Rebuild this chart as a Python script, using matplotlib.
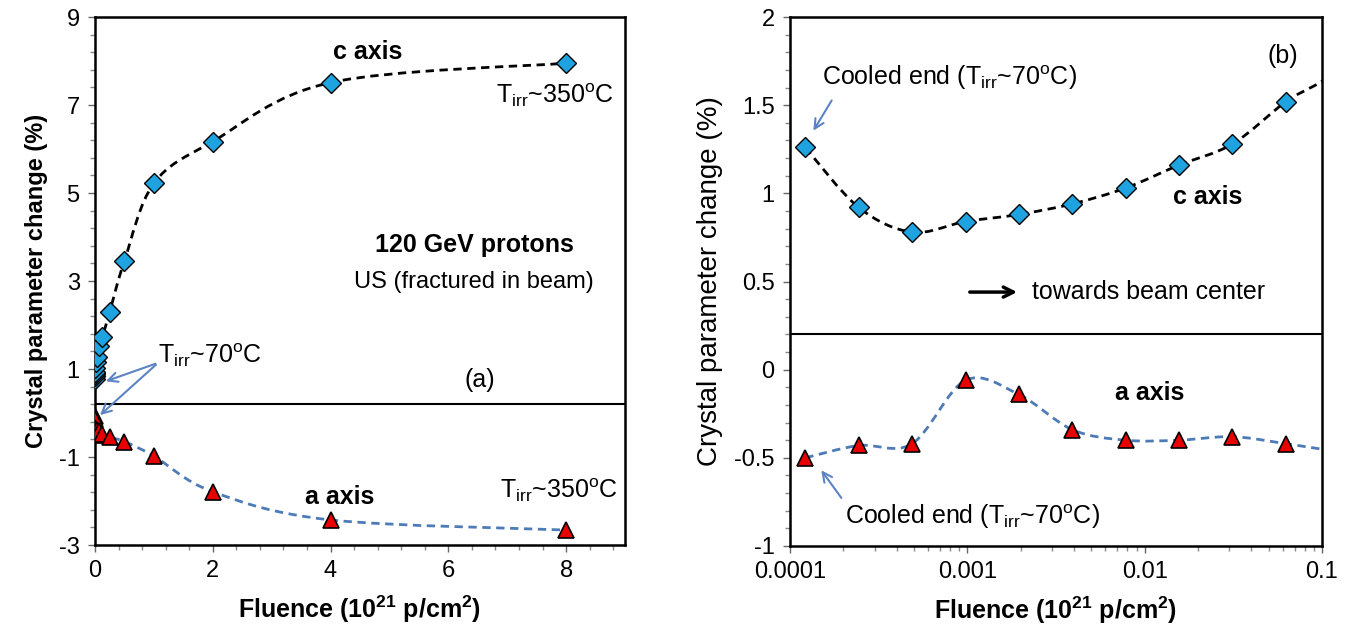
import numpy as np
import matplotlib.pyplot as plt
from matplotlib.path import Path
from matplotlib.patches import PathPatch
from matplotlib.ticker import MultipleLocator, LogLocator, FixedLocator, NullFormatter

# data
fluence = [0.000122, 0.000244, 0.000488, 0.000977, 0.00195, 0.0039, 0.0078,
           0.0156, 0.03125, 0.0625, 0.125, 0.25, 0.5, 1, 2, 4, 8]
c_axis = [1.26, 0.92, 0.78, 0.84, 0.88, 0.94, 1.03, 1.16, 1.28, 1.52,
          1.73, 2.30, 3.46, 5.22, 6.17, 7.51, 7.95]
a_axis = [-0.50, -0.43, -0.42, -0.06, -0.14, -0.34, -0.40, -0.40, -0.38, -0.42,
          -0.47, -0.55, -0.65, -0.98, -1.79, -2.43, -2.66]
log_ticks = [0.0001, 0.001, 0.01, 0.1]
log_labels = ['0.0001', '0.001', '0.01', '0.1']
lin_yticks = [-3, -1, 1, 3, 5, 7, 9]
log_yticks = [-1, -0.5, 0, 0.5, 1, 1.5, 2]
log_ylabels = ['-1', '-0.5', '0', '0.5', '1', '1.5', '2']

plt.rcParams['font.family'] = ['Liberation Sans', 'DejaVu Sans']
plt.rcParams['mathtext.default'] = 'regular'
plt.rcParams['axes.unicode_minus'] = False
plt.rcParams['font.size'] = 17

blue = '#1fa3e0'
red = '#e80000'
lblue = '#4d7bb8'
arrow_c = '#5b84c4'
xlab = 'Fluence (10$^{21}$ p/cm$^{2}$)'


def smooth_line(ax, xs, ys, color, logx=False):
    # excel style smoothed line, catmull-rom as bezier segments
    x = np.log10(xs) if logx else np.asarray(xs, float)
    y = np.asarray(ys, float)
    n = len(x)
    verts = [(x[0], y[0])]
    codes = [Path.MOVETO]
    for i in range(n - 1):
        i0 = max(i - 1, 0)
        i3 = min(i + 2, n - 1)
        c1 = (x[i] + (x[i + 1] - x[i0]) / 6, y[i] + (y[i + 1] - y[i0]) / 6)
        c2 = (x[i + 1] - (x[i3] - x[i]) / 6, y[i + 1] - (y[i3] - y[i]) / 6)
        verts += [c1, c2, (x[i + 1], y[i + 1])]
        codes += [Path.CURVE4] * 3
    verts = np.array(verts)
    if logx:
        verts[:, 0] = 10 ** verts[:, 0]
    p = PathPatch(Path(verts, codes), fill=False, edgecolor=color, lw=2,
                  linestyle=(0, (3, 2)), zorder=2)
    ax.add_patch(p)


def style(ax):
    for s in ax.spines.values():
        s.set_linewidth(1.8)
        s.set_color('black')
    ax.tick_params(which='major', direction='out', length=5, width=1,
                   color='#666666', labelsize=17, pad=6)
    ax.tick_params(which='minor', direction='out', length=3.5, width=1,
                   color='#888888')


fig = plt.figure(figsize=(13.53, 6.35), dpi=100)
ax1 = fig.add_axes([95 / 1353, 1 - 545 / 635, 530 / 1353, 528 / 635])
ax2 = fig.add_axes([790 / 1353, 1 - 546 / 635, 532 / 1353, 529 / 635])

# (a) linear fluence
smooth_line(ax1, fluence, c_axis, 'black')
smooth_line(ax1, fluence, a_axis, lblue)
ax1.plot(fluence, c_axis, 'D', ms=10, mfc=blue, mec='black', mew=1, zorder=3)
ax1.plot(fluence, a_axis, '^', ms=12, mfc=red, mec='black', mew=1.2, zorder=3)
ax1.axhline(0.2, color='black', lw=1.5, zorder=1)
ax1.set_xlim(0, 9)
ax1.set_ylim(-3, 9)
ax1.xaxis.set_major_locator(MultipleLocator(2))
ax1.xaxis.set_minor_locator(MultipleLocator(0.4))
ax1.yaxis.set_major_locator(FixedLocator(lin_yticks))
ax1.yaxis.set_minor_locator(MultipleLocator(0.4, offset=0.2))
style(ax1)
ax1.set_xlabel(xlab, fontweight='bold', fontsize=18, labelpad=8)
ax1.set_ylabel('Crystal parameter change (%)', fontweight='bold', fontsize=17, labelpad=8)

ax1.text(4.63, 8.2, 'c axis', ha='center', va='center', fontweight='bold', fontsize=18)
ax1.text(7.81, 7.23, 'T$_{irr}$~350$^{o}$C', ha='center', va='center', fontsize=18)
ax1.text(6.44, 3.82, '120 GeV protons', ha='center', va='center', fontweight='bold', fontsize=18)
ax1.text(6.44, 2.98, 'US (fractured in beam)', ha='center', va='center', fontsize=17)
ax1.text(6.53, 0.75, '(a)', ha='center', va='center', fontsize=18)
ax1.text(4.15, -1.91, 'a axis', ha='center', va='center', fontweight='bold', fontsize=18)
ax1.text(7.88, -1.75, 'T$_{irr}$~350$^{o}$C', ha='center', va='center', fontsize=18)
ax1.text(1.07, 1.32, 'T$_{irr}$~70$^{o}$C', ha='left', va='center', fontsize=18)
for tip in [(0.14, 0.70), (0.05, -0.09)]:
    ax1.annotate('', xy=tip, xytext=(1.07, 1.14),
                 arrowprops=dict(arrowstyle='->', color=arrow_c, lw=1.5))

# (b) log fluence
smooth_line(ax2, fluence, c_axis, 'black', logx=True)
smooth_line(ax2, fluence, a_axis, lblue, logx=True)
ax2.plot(fluence, c_axis, 'D', ms=10, mfc=blue, mec='black', mew=1, zorder=3)
ax2.plot(fluence, a_axis, '^', ms=12, mfc=red, mec='black', mew=1.2, zorder=3)
ax2.axhline(0.2, color='black', lw=1.5, zorder=1)
ax2.set_xscale('log')
ax2.set_xlim(0.0001, 0.1)
ax2.set_ylim(-1, 2)
ax2.xaxis.set_major_locator(FixedLocator(log_ticks))
ax2.set_xticklabels(log_labels)
ax2.xaxis.set_minor_locator(LogLocator(base=10, subs=np.arange(2, 10)))
ax2.xaxis.set_minor_formatter(NullFormatter())
ax2.set_yticks(log_yticks)
ax2.set_yticklabels(log_ylabels)
ax2.yaxis.set_minor_locator(MultipleLocator(0.1))
style(ax2)
ax2.set_xlabel(xlab, fontweight='bold', fontsize=18, labelpad=8)
ax2.set_ylabel('Crystal parameter change (%)', fontsize=20, labelpad=8)

ax2.text(0.060, 1.78, '(b)', ha='center', va='center', fontsize=18)
ax2.text(0.000151, 1.654, 'Cooled end (T$_{irr}$~70$^{o}$C)', ha='left', va='center', fontsize=18)
ax2.annotate('', xy=(0.000133, 1.342), xytext=(0.000175, 1.54),
             arrowprops=dict(arrowstyle='->', color=arrow_c, lw=1.5))
ax2.text(0.0228, 0.979, 'c axis', ha='center', va='center', fontweight='bold', fontsize=18)
ax2.annotate('', xy=(0.00198, 0.44), xytext=(0.000996, 0.44),
             arrowprops=dict(arrowstyle='->', color='black', lw=2.5, mutation_scale=18))
ax2.text(0.00232, 0.44, 'towards beam center', ha='left', va='center', fontsize=18)
ax2.text(0.0107, -0.133, 'a axis', ha='center', va='center', fontweight='bold', fontsize=18)
ax2.text(0.000204, -0.836, 'Cooled end (T$_{irr}$~70$^{o}$C)', ha='left', va='center', fontsize=18)
ax2.annotate('', xy=(0.000147, -0.558), xytext=(0.000199, -0.74),
             arrowprops=dict(arrowstyle='->', color=arrow_c, lw=1.5))

fig.savefig('out.png', dpi=100)
